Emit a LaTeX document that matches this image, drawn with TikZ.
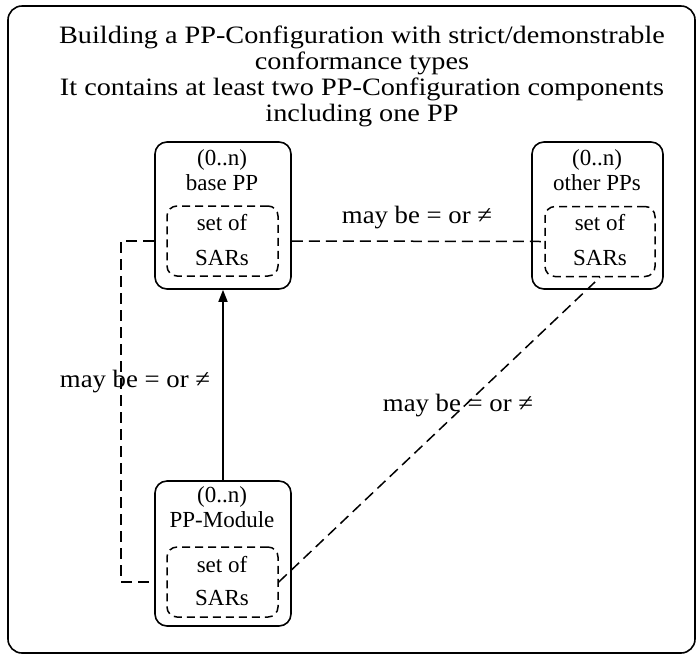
\documentclass[tikz,border=0pt]{standalone}
\usepackage{fontspec}
\setmainfont{Liberation Serif}
\newfontfamily\titlefont[FakeStretch=1.13]{Liberation Serif}
\newfontfamily\lblfont[FakeStretch=1.07]{Liberation Serif}
\usetikzlibrary{arrows.meta}
\tikzset{
  frame/.style={draw, rounded corners=14pt, line width=1.6pt, inner sep=0},
  ppbox/.style={draw, rounded corners=12pt, line width=1.6pt, inner sep=0},
  sarbox/.style={draw, dash pattern=on 8pt off 5pt, rounded corners=10pt, line width=1.5pt, inner sep=0},
  txt/.style={font=\fontsize{23}{26}\selectfont, inner sep=0},
  ttl/.style={font=\titlefont\fontsize{25}{26}\selectfont, inner sep=0, align=center},
  lbl/.style={font=\lblfont\fontsize{25}{26}\selectfont, inner sep=0},
  conn/.style={dash pattern=on 11pt off 6pt, line width=1.5pt},
}
\begin{document}
\begin{tikzpicture}[x=1pt,y=-1pt]
\useasboundingbox (0,0) rectangle (700,657);
\node[frame, minimum width=687pt, minimum height=647pt] (fr) at (351.5,329.5) {};
% title
\node[ttl] (title) at (362,76.5) {Building a PP-Configuration with strict/demonstrable\\conformance types\\It contains at least two PP-Configuration components\\including one PP};
% boxes
\node[ppbox, minimum width=136pt, minimum height=147pt] (bpp) at (223,215.5) {};
\node[sarbox, minimum width=111pt, minimum height=70pt] (bin) at (222.5,241) {};
\node[ppbox, minimum width=131pt, minimum height=147pt] (opp) at (597.5,215.5) {};
\node[sarbox, minimum width=110pt, minimum height=70pt] (oin) at (600,241.5) {};
\node[ppbox, minimum width=136pt, minimum height=145pt] (mod) at (223,553.5) {};
\node[sarbox, minimum width=111pt, minimum height=70pt] (min) at (222.5,582) {};
% box texts
\node[txt] (b1) at (222,160) {(0..n)};
\node[txt] (b2) at (222,183) {base PP};
\node[txt] (b3) at (222,223) {set of};
\node[txt] (b4) at (222,258) {SARs};
\node[txt] (o1) at (597,160) {(0..n)};
\node[txt] (o2) at (597,183) {other PPs};
\node[txt] (o3) at (600,223) {set of};
\node[txt] (o4) at (600,258) {SARs};
\node[txt] (m1) at (222,497) {(0..n)};
\node[txt] (m2) at (222,520) {PP-Module};
\node[txt] (m3) at (222,564) {set of};
\node[txt] (m4) at (222,598) {SARs};
% connectors
\draw[line width=1.6pt, -{Triangle[length=12pt,width=9pt]}] (mod.north) -- (bpp.south);
\draw[conn] (bin.east -| bpp.east) -- (oin.west);
\draw[conn] (bin.west -| bpp.west) -- ++(-33,0) |- (min.west -| mod.west);
\draw[conn] (min.east) -- (oin.south);
% labels
\node[lbl] (l1) at (417,218) {may be = or ≠};
\node[lbl] (l2) at (135,382) {may be = or ≠};
\node[lbl] (l3) at (458,406) {may be = or ≠};
\end{tikzpicture}
\end{document}
